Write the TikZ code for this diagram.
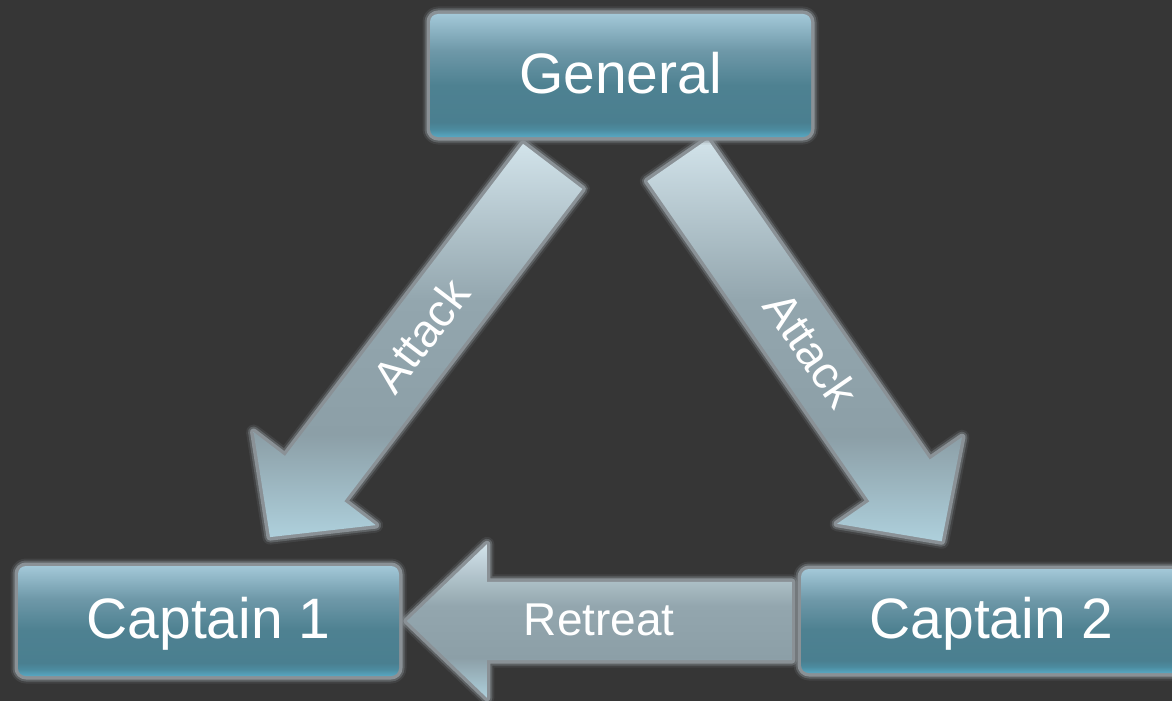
\documentclass[tikz,border=0pt]{standalone}
\usepackage{fontspec}
\setmainfont{Liberation Sans}
\usetikzlibrary{calc}

\definecolor{bgc}{HTML}{363636}
\definecolor{glowc}{HTML}{8A9196}
% box gradient, bottom to top
\definecolor{bxa}{HTML}{58A8C3}
\definecolor{bxb}{HTML}{4C8CA0}
\definecolor{bxc}{HTML}{4A7F90}
\definecolor{bxd}{HTML}{4E8191}
\definecolor{bxe}{HTML}{6E98A8}
\definecolor{bxf}{HTML}{A3C8D8}
% arrow gradient, bottom to top
\definecolor{ara}{HTML}{AED0DC}
\definecolor{arb}{HTML}{8C9FA7}
\definecolor{arc}{HTML}{93A6AE}
\definecolor{ard}{HTML}{D2E3EA}

\pgfdeclareverticalshading{boxshade}{100bp}{color(0bp)=(bxa); color(25bp)=(bxa); color(28bp)=(bxb); color(31bp)=(bxc); color(46bp)=(bxd); color(60bp)=(bxe); color(75bp)=(bxf); color(100bp)=(bxf)}
\pgfdeclareverticalshading{arrowshade}{100bp}{color(0bp)=(ara); color(25bp)=(ara); color(38bp)=(arb); color(55bp)=(arc); color(75bp)=(ard); color(100bp)=(ard)}

\pgfdeclarelayer{canvaslayer}
\pgfdeclarelayer{arrowlayer}
\pgfsetlayers{canvaslayer,arrowlayer,main}

\tikzset{
  glow/.style={
    preaction={draw=glowc, draw opacity=.15, line width=15pt, line join=round},
    preaction={draw=glowc, draw opacity=.4, line width=11pt, line join=round},
    preaction={draw=glowc, line width=7pt, line join=round}},
  box/.style={glow, rounded corners=8pt, shade, shading=boxshade,
    text=white, font=\fontsize{57pt}{62pt}\selectfont, inner sep=0pt,
    text height=41pt, text depth=6pt, minimum width=381pt},
  arrowbody/.style={glow, shade, shading=arrowshade},
  lbl/.style={text=white, font=\fontsize{46pt}{50pt}\selectfont, inner sep=0pt,
    text height=33pt, text depth=5pt}
}

% block arrow: #1 tail centre, #2 tip, #3 half shaft width,
% #4 half head width, #5 head length
\newcommand\blockarrow[5]{%
  \coordinate (ba-h) at ($(#2)!#5!(#1)$);
  \path[arrowbody] ($(#1)!#3!90:(#2)$) -- ($(ba-h)!#3!90:(#2)$)
    -- ($(ba-h)!#4!90:(#2)$) -- (#2) -- ($(ba-h)!#4!-90:(#2)$)
    -- ($(ba-h)!#3!-90:(#2)$) -- ($(#1)!#3!-90:(#2)$) -- cycle;
}

\begin{document}
\begin{tikzpicture}[x=1pt,y=-1pt]
\useasboundingbox (0,0) rectangle (1172,701);
\clip (0,0) rectangle (1172,701);
\begin{pgfonlayer}{canvaslayer}
  \fill[bgc] (0,0) rectangle (1172,701);
\end{pgfonlayer}

% the three ranks
\node[box, minimum height=123pt] (general) at (620.5,75.5) {General};
\node[box, minimum height=110pt] (cap1) at (208.5,621) {Captain 1};
\node[box, minimum height=104pt] (cap2) at (991.5,621) {Captain 2};

% arrow end points
\coordinate (s1) at ($(general.south)+(-67.8,29.2)$);
\coordinate (t1) at ($(cap1.north)+(61.5,-28.7)$);
\coordinate (s2) at ($(general.south)+(57,23)$);
\coordinate (t2) at ($(cap2.north)+(-49.8,-27.5)$);
\coordinate (s3) at ($(cap2.west)+(-9,0)$);
\coordinate (t3) at ($(cap1.east)+(7.7,0)$);

\begin{pgfonlayer}{arrowlayer}
  \blockarrow{s1}{t1}{37.3pt}{76.8pt}{73.6pt}
  \blockarrow{s2}{t2}{36.7pt}{76pt}{74pt}
  \blockarrow{s3}{t3}{39.2pt}{76.7pt}{80pt}
\end{pgfonlayer}

% messages
\path (s1) -- node[lbl, sloped, pos=.46] {Attack} (t1);
\path (s2) -- node[lbl, sloped, pos=.5] {Attack} (t2);
\path (s3) -- node[lbl, sloped, pos=.5] {Retreat} (t3);
\end{tikzpicture}
\end{document}
